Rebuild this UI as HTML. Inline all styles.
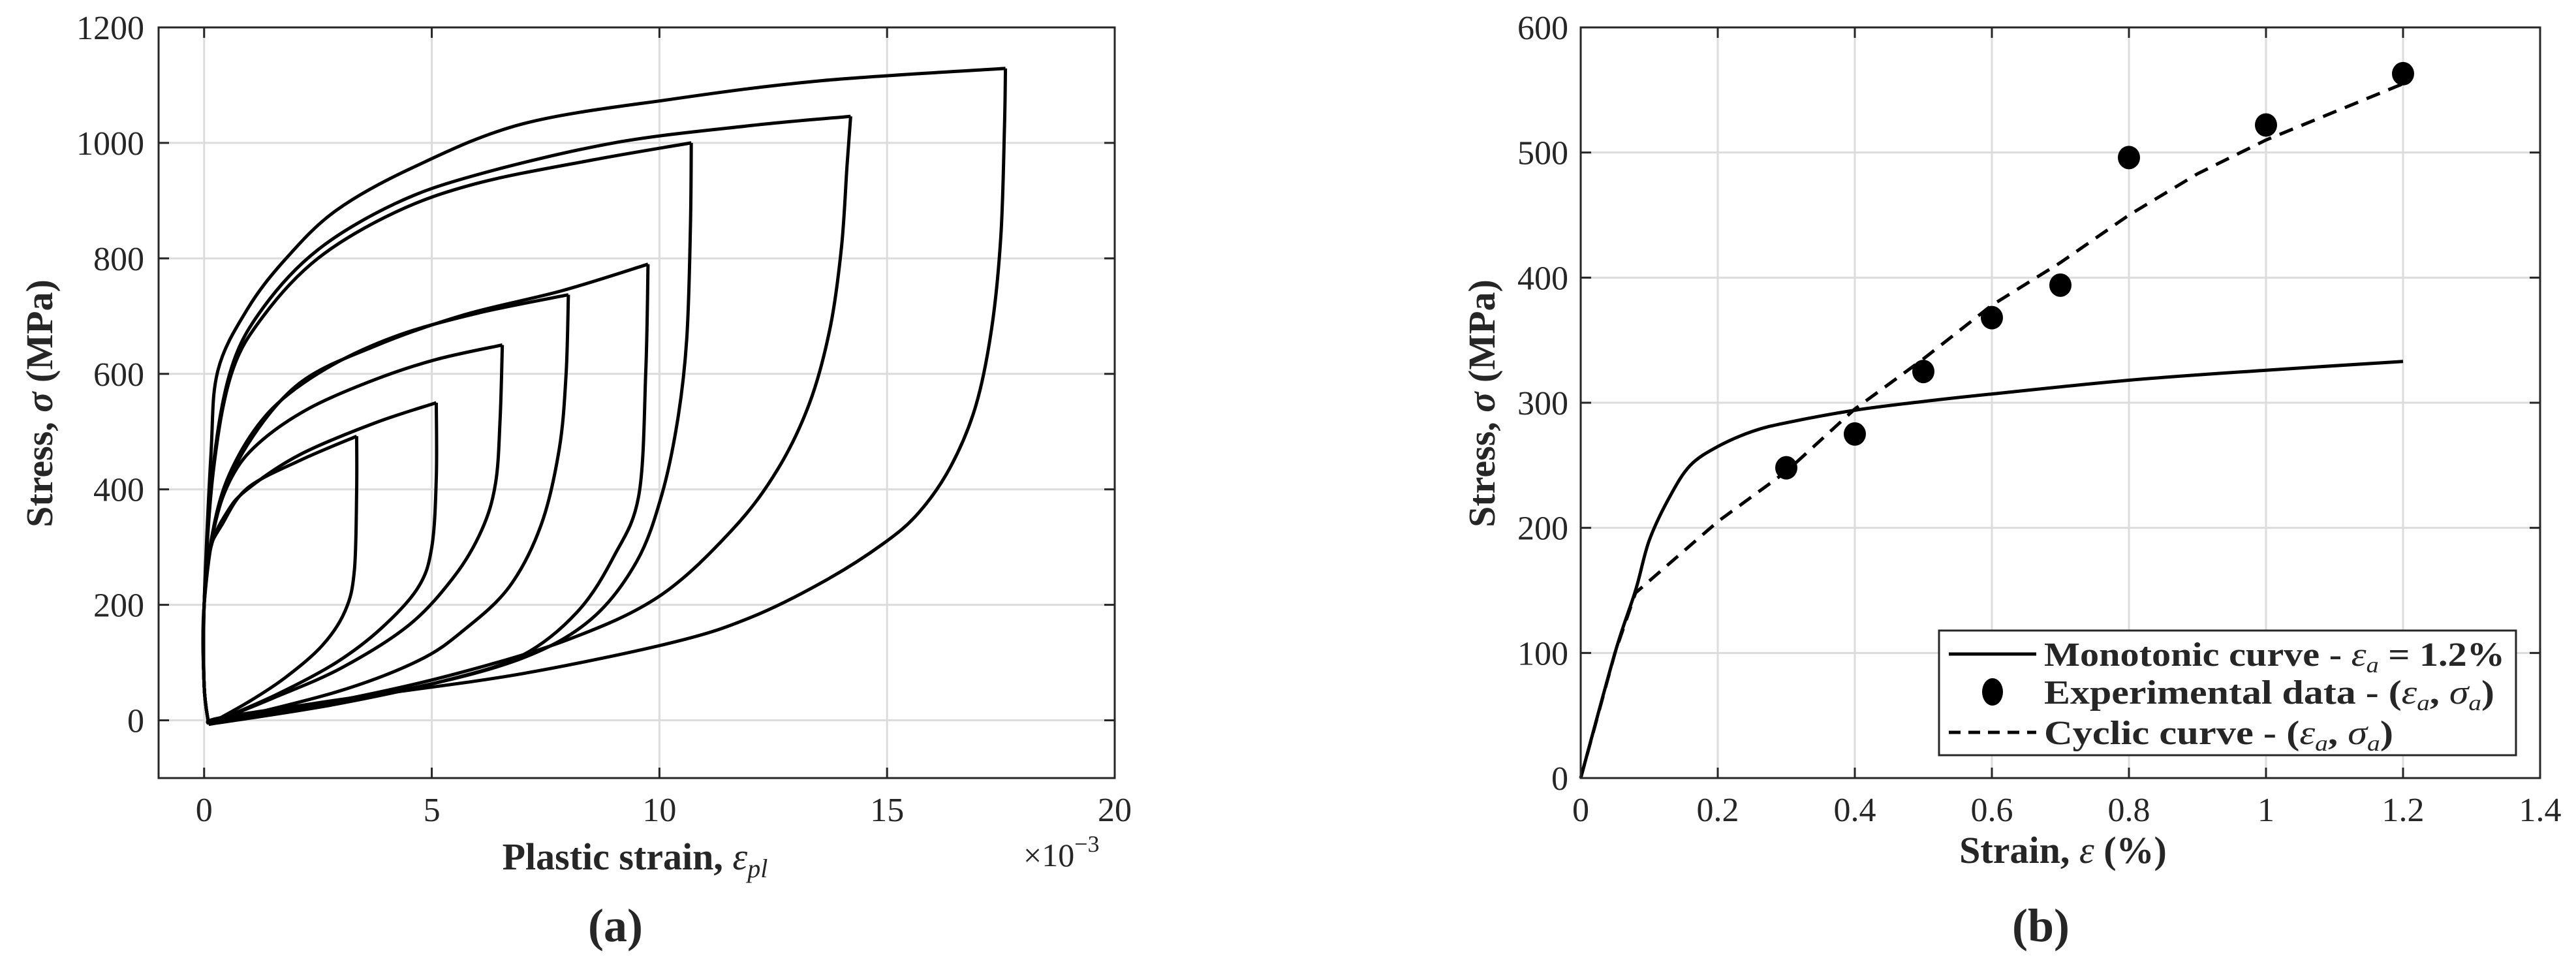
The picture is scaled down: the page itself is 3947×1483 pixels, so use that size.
<!DOCTYPE html>
<html><head><meta charset="utf-8"><style>
html,body{margin:0;padding:0;background:#fff;}
svg{display:block;}
text{font-family:"Liberation Serif",serif;fill:#262626;}
</style></head><body>
<svg id="fig" width="3947" height="1483" viewBox="0 0 3947 1483" xmlns="http://www.w3.org/2000/svg">
<g id="pa"></g>
<g id="pb"></g>
</svg>
<script>
// ---------- Panel (a) data ----------
const aXTicks = [0, 5, 10, 15, 20];
const aYTicks = [0, 200, 400, 600, 800, 1000, 1200];
const loop1Up = [[0.1,-7],[0,60],[0,200],[0.1,290],[0.4,340],[0.95,402],[2.1,450],[3.35,492]];
const loop1Dn = [[3.35,492],[3.35,400],[3.3,260],[3.1,190],[2.6,130],[1.8,75],[1.0,33],[0.1,-7]];
const loop2Up = [[0.1,-7],[0,60],[0,200],[0.15,300],[0.5,360],[0.95,400],[2.1,460],[3.75,515],[5.1,550]];
const loop2Dn = [[5.1,550],[5.1,420],[5.0,300],[4.7,230],[3.9,160],[2.9,100],[1.6,45],[0.1,-7]];
const loop3Up = [[0.1,-7],[0,60],[0,200],[0.2,330],[0.6,420],[1.2,480],[2.3,540],[3.75,590],[5.1,625],[6.55,650]];
const loop3Dn = [[6.55,650],[6.5,520],[6.4,410],[6.1,330],[5.5,250],[4.5,165],[3.0,90],[1.5,38],[0.1,-7]];
const loop4Up = [[0.1,-7],[0,60],[0,200],[0.25,350],[0.7,450],[1.5,540],[2.7,610],[4.2,665],[6.0,705],[8.0,737]];
const loop4Dn = [[8.0,737],[7.95,600],[7.8,470],[7.4,338],[6.7,231],[5.7,156],[4.7,103],[2.9,49],[0.1,-7]];
const loop5Up = [[0.1,-7],[0,60],[0,200],[0.3,359],[0.95,477],[2.1,584],[3.75,648],[5.7,702],[7.86,744],[9.75,790]];
const loop5Dn = [[9.75,790],[9.7,605],[9.55,391],[9.0,284],[8.2,188],[7.0,113],[5.4,71],[2.9,28],[0.1,-7]];
const loop6Up = [[0.1,-7],[0,60],[0,200],[0.2,430],[0.6,600],[1.3,700],[2.5,800],[4.2,880],[6.0,930],[8.5,970],[10.7,1000]];
const loop6Dn = [[10.7,1000],[10.68,850],[10.6,660],[10.4,520],[10.05,390],[9.5,275],[8.5,175],[7.0,108],[4.7,58],[2.1,25],[0.1,-7]];
const loop7Up = [[0.1,-7],[0,60],[0,200],[0.2,440],[0.6,610],[1.3,715],[2.5,815],[4.2,895],[6.0,945],[9.0,1000],[12.0,1030],[14.2,1046]];
const loop7Dn = [[14.2,1046],[14.12,960],[14.0,820],[13.75,680],[13.3,550],[12.6,435],[11.6,330],[10.0,215],[8.0,140],[5.5,80],[3.0,35],[0.1,-7]];
const loop8Up = [[0.1,-7],[0,60],[0,200],[0.15,460],[0.3,605],[0.95,712],[1.78,798],[2.9,883],[4.6,958],[7.0,1033],[10.3,1076],[13.6,1108],[17.6,1129]];
const loop8Dn = [[17.6,1129],[17.58,1033],[17.5,840],[17.3,680],[16.95,545],[16.4,440],[15.7,360],[14.9,305],[13.6,240],[12.0,178],[10.3,135],[7.0,81],[3.75,44],[0.46,6],[0.1,-7]];
const aLoops = [[loop1Up,loop1Dn],[loop2Up,loop2Dn],[loop3Up,loop3Dn],[loop4Up,loop4Dn],[loop5Up,loop5Dn],[loop6Up,loop6Dn],[loop7Up,loop7Dn],[loop8Up,loop8Dn]];

// ---------- Panel (b) data ----------
const bXTicks = [0, 0.2, 0.4, 0.6, 0.8, 1, 1.2, 1.4];
const bXTickLabels = ["0","0.2","0.4","0.6","0.8","1","1.2","1.4"];
const bYTicks = [0, 100, 200, 300, 400, 500, 600];
const monoX = [0, 0.05, 0.08, 0.1, 0.13, 0.16, 0.2, 0.25, 0.3, 0.4, 0.5, 0.6, 0.8, 1.0, 1.2];
const monoY = [0, 100, 150, 190, 225, 250, 265, 277, 284, 294, 301, 307, 318, 326, 333];
const cycX = [0, 0.05, 0.08, 0.2, 0.3, 0.4, 0.5, 0.6, 0.7, 0.8, 0.9, 1.0, 1.2];
const cycY = [0, 100, 148, 205, 245, 295, 335, 378, 412, 450, 483, 510, 555];
const expX = [0.3, 0.4, 0.5, 0.6, 0.7, 0.8, 1.0, 1.2];
const expY = [248, 275, 325, 368, 394, 496, 522, 563];

const NS = "http://www.w3.org/2000/svg";
function mk(tag, attrs, parent, txt){
  const e = document.createElementNS(NS, tag);
  for (const k in attrs) e.setAttribute(k, attrs[k]);
  if (txt !== undefined) e.textContent = txt;
  parent.appendChild(e);
  return e;
}
function smoothPath(pts){
  let d = "M" + pts[0][0].toFixed(1) + "," + pts[0][1].toFixed(1);
  for (let i = 0; i < pts.length - 1; i++){
    const p0 = pts[Math.max(0,i-1)], p1 = pts[i], p2 = pts[i+1], p3 = pts[Math.min(pts.length-1,i+2)];
    const c1x = p1[0] + (p2[0]-p0[0])/6, c1y = p1[1] + (p2[1]-p0[1])/6;
    const c2x = p2[0] - (p3[0]-p1[0])/6, c2y = p2[1] - (p3[1]-p1[1])/6;
    d += " C" + c1x.toFixed(1)+","+c1y.toFixed(1)+" "+c2x.toFixed(1)+","+c2y.toFixed(1)+" "+p2[0].toFixed(1)+","+p2[1].toFixed(1);
  }
  return d;
}

// ---------- Panel (a) ----------
(function(){
  const g = document.getElementById("pa");
  const L = 243, R = 1708, T = 42, B = 1192;
  const xmin = -1, xmax = 20, ymin = -100, ymax = 1200;
  const X = v => L + (v - xmin) / (xmax - xmin) * (R - L);
  const Y = v => B - (v - ymin) / (ymax - ymin) * (B - T);
  aXTicks.forEach(t => {
    const gl = mk("line", {x1:X(t), x2:X(t), y1:T, y2:B, stroke:"#dcdcdc", "stroke-width":3}, g);
    
    
  });
  aYTicks.forEach(t => {
    const gl = mk("line", {x1:L, x2:R, y1:Y(t), y2:Y(t), stroke:"#dcdcdc", "stroke-width":3}, g);
    
    
  });
  aLoops.forEach((lp, i) => {
    const up = smoothPath(lp[0].map(p => [X(p[0]), Y(p[1])]));
    const dn = smoothPath(lp[1].map(p => [X(p[0]), Y(p[1])]));
    const p = mk("path", {d: up + " " + dn, fill:"none", stroke:"#000", "stroke-width":5, "stroke-linejoin":"round"}, g);
    
    
  });
  const box = mk("rect", {x:L, y:T, width:R-L, height:B-T, fill:"none", stroke:"#262626", "stroke-width":3}, g);
  
  
  aXTicks.forEach(t => {
    mk("line", {x1:X(t), x2:X(t), y1:B, y2:B-16, stroke:"#262626", "stroke-width":3}, g);
    mk("line", {x1:X(t), x2:X(t), y1:T, y2:T+16, stroke:"#262626", "stroke-width":3}, g);
    const tl = mk("text", {x:X(t), y:1258, "font-size":52, "text-anchor":"middle"}, g, String(t));
    
    
  });
  aYTicks.forEach(t => {
    mk("line", {x1:L, x2:L+16, y1:Y(t), y2:Y(t), stroke:"#262626", "stroke-width":3}, g);
    mk("line", {x1:R, x2:R-16, y1:Y(t), y2:Y(t), stroke:"#262626", "stroke-width":3}, g);
    const tl = mk("text", {x:221, y:Y(t)+18, "font-size":52, "text-anchor":"end"}, g, String(t));
    
    
  });
  const xl = mk("text", {x:973, y:1332, "font-size":58, "font-weight":"bold", "text-anchor":"middle"}, g);
  
  
  xl.innerHTML = 'Plastic strain, <tspan font-style="italic" font-weight="normal">ε</tspan><tspan font-style="italic" font-weight="normal" font-size="40" dy="12">pl</tspan>';
  const ex = mk("text", {x:1568, y:1327, "font-size":50}, g);
  
  
  ex.innerHTML = '×10<tspan font-size="36" dy="-22">−3</tspan>';
  const yl = mk("text", {x:0, y:0, "font-size":58, "font-weight":"bold", "text-anchor":"middle", transform:"translate(80,618) rotate(-90)"}, g);
  
  
  yl.innerHTML = 'Stress, <tspan font-style="italic">σ</tspan> (MPa)';
  const cap = mk("text", {x:943, y:1442, "font-size":72, "font-weight":"bold", "text-anchor":"middle"}, g, "(a)");
  
  
})();

// ---------- Panel (b) ----------
(function(){
  const g = document.getElementById("pb");
  const L = 2422, R = 3892, T = 42, B = 1192;
  const xmin = 0, xmax = 1.4, ymin = 0, ymax = 600;
  const X = v => L + (v - xmin) / (xmax - xmin) * (R - L);
  const Y = v => B - (v - ymin) / (ymax - ymin) * (B - T);
  bXTicks.forEach(t => {
    const gl = mk("line", {x1:X(t), x2:X(t), y1:T, y2:B, stroke:"#dcdcdc", "stroke-width":3}, g);
    
    
  });
  bYTicks.forEach(t => {
    const gl = mk("line", {x1:L, x2:R, y1:Y(t), y2:Y(t), stroke:"#dcdcdc", "stroke-width":3}, g);
    
    
  });
  const mono = smoothPath(monoX.map((x,i) => [X(x), Y(monoY[i])]));
  const mp = mk("path", {d:mono, fill:"none", stroke:"#000", "stroke-width":5}, g);
  
  
  const cyc = cycX.map((x,i) => X(x).toFixed(1) + "," + Y(cycY[i]).toFixed(1)).join(" ");
  const cp = mk("polyline", {points:cyc, fill:"none", stroke:"#000", "stroke-width":5, "stroke-dasharray":"22 14"}, g);
  
  
  expX.forEach((x,i) => {
    const c = mk("ellipse", {cx:X(x), cy:Y(expY[i]), rx:17, ry:18, fill:"#000"}, g);
    
    
  });
  const box = mk("rect", {x:L, y:T, width:R-L, height:B-T, fill:"none", stroke:"#262626", "stroke-width":3}, g);
  
  
  bXTicks.forEach((t,i) => {
    mk("line", {x1:X(t), x2:X(t), y1:B, y2:B-16, stroke:"#262626", "stroke-width":3}, g);
    mk("line", {x1:X(t), x2:X(t), y1:T, y2:T+16, stroke:"#262626", "stroke-width":3}, g);
    const tl = mk("text", {x:X(t), y:1258, "font-size":52, "text-anchor":"middle"}, g, bXTickLabels[i]);
    
    
  });
  bYTicks.forEach(t => {
    mk("line", {x1:L, x2:L+16, y1:Y(t), y2:Y(t), stroke:"#262626", "stroke-width":3}, g);
    mk("line", {x1:R, x2:R-16, y1:Y(t), y2:Y(t), stroke:"#262626", "stroke-width":3}, g);
    const tl = mk("text", {x:2403, y:Y(t)+18, "font-size":52, "text-anchor":"end"}, g, String(t));
    
    
  });
  const xl = mk("text", {x:3161, y:1322, "font-size":58, "font-weight":"bold", "text-anchor":"middle"}, g);
  
  
  xl.innerHTML = 'Strain, <tspan font-style="italic" font-weight="normal">ε</tspan> (%)';
  const yl = mk("text", {x:0, y:0, "font-size":58, "font-weight":"bold", "text-anchor":"middle", transform:"translate(2290,618) rotate(-90)"}, g);
  
  
  yl.innerHTML = 'Stress, <tspan font-style="italic">σ</tspan> (MPa)';
  const cap = mk("text", {x:3127, y:1442, "font-size":72, "font-weight":"bold", "text-anchor":"middle"}, g, "(b)");
  
  

  // legend
  const lg = mk("g", {}, g);
  
  
  mk("rect", {x:2971, y:966, width:884, height:191, fill:"#fff", stroke:"#262626", "stroke-width":3}, lg);
  const rows = [1002, 1060, 1122];
  const e1 = mk("line", {x1:2986, x2:3120, y1:rows[0], y2:rows[0], stroke:"#000", "stroke-width":5}, lg);
  
  
  const e2 = mk("ellipse", {cx:3053, cy:rows[1], rx:16, ry:21, fill:"#000"}, lg);
  
  
  const e3 = mk("line", {x1:2986, x2:3120, y1:rows[2], y2:rows[2], stroke:"#000", "stroke-width":5, "stroke-dasharray":"18 12"}, lg);
  
  
  const t1 = mk("text", {x:3132, y:rows[0]+18, "font-size":52, "font-weight":"bold", textLength:706, lengthAdjust:"spacingAndGlyphs"}, lg);
  
  
  t1.innerHTML = 'Monotonic curve - <tspan font-style="italic" font-weight="normal">ε</tspan><tspan font-style="italic" font-weight="normal" font-size="34" dy="10">a</tspan><tspan dy="-10"> = 1.2%</tspan>';
  const t2 = mk("text", {x:3132, y:rows[1]+18, "font-size":52, "font-weight":"bold", textLength:690, lengthAdjust:"spacingAndGlyphs"}, lg);
  
  
  t2.innerHTML = 'Experimental data - (<tspan font-style="italic" font-weight="normal">ε</tspan><tspan font-style="italic" font-weight="normal" font-size="34" dy="10">a</tspan><tspan dy="-10">, </tspan><tspan font-style="italic" font-weight="normal">σ</tspan><tspan font-style="italic" font-weight="normal" font-size="34" dy="10">a</tspan><tspan dy="-10">)</tspan>';
  const t3 = mk("text", {x:3132, y:rows[2]+18, "font-size":52, "font-weight":"bold", textLength:535, lengthAdjust:"spacingAndGlyphs"}, lg);
  
  
  t3.innerHTML = 'Cyclic curve - (<tspan font-style="italic" font-weight="normal">ε</tspan><tspan font-style="italic" font-weight="normal" font-size="34" dy="10">a</tspan><tspan dy="-10">, </tspan><tspan font-style="italic" font-weight="normal">σ</tspan><tspan font-style="italic" font-weight="normal" font-size="34" dy="10">a</tspan><tspan dy="-10">)</tspan>';
})();
</script>
</body></html>
